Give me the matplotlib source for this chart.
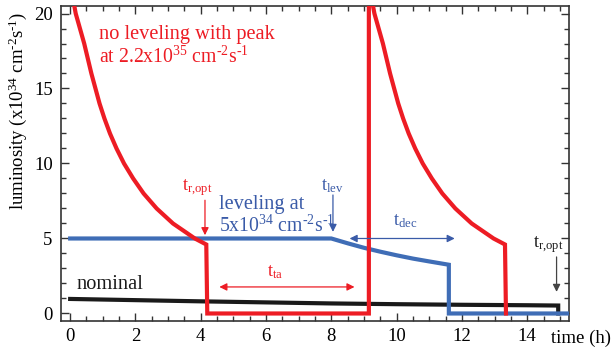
import matplotlib
matplotlib.use("Agg")
import matplotlib.pyplot as plt
from matplotlib.ticker import MultipleLocator

plt.rcParams["font.family"] = ["Liberation Serif", "DejaVu Serif"]
plt.rcParams["mathtext.fontset"] = "custom"
plt.rcParams["mathtext.rm"] = "Liberation Serif"
plt.rcParams["mathtext.it"] = "Liberation Serif:italic"

RED = "#ED1C24"
BLUE = "#3F6DB6"
BLUE_TXT = "#3A5BA8"
BLACK = "#1A1A1A"

# no leveling: two fills, peak 22 (off scale), turnaround at zero between
red_t = [0.0, 0.17, 0.43, 0.65, 0.9, 1.05, 1.22, 1.42, 1.65, 1.93, 2.25, 2.65, 3.15, 3.82, 4.17,
         4.2, 9.15,
         9.15, 9.32, 9.58, 9.80, 10.05, 10.20, 10.37, 10.57, 10.80, 11.08, 11.40, 11.80, 12.30,
         12.97, 13.32, 13.35]
red_L = [22.0, 20.0, 18.0, 16.0, 14.0, 13.0, 12.0, 11.0, 10.0, 9.0, 8.0, 7.0, 6.0, 5.0, 4.6,
         0.0, 0.0,
         22.0, 20.0, 18.0, 16.0, 14.0, 13.0, 12.0, 11.0, 10.0, 9.0, 8.0, 7.0, 6.0,
         5.0, 4.6, 0.0]

# leveling at 5e34
blue_t = [0.0, 8.0, 8.5, 9.0, 9.5, 10.0, 10.5, 11.0, 11.6, 11.6, 15.4]
blue_L = [5.0, 5.0, 4.68, 4.38, 4.12, 3.88, 3.66, 3.47, 3.25, 0.0, 0.0]

# nominal
black_t = [0.0, 2.0, 4.0, 6.0, 8.0, 10.0, 12.0, 14.0, 14.95, 14.95]
black_L = [0.97, 0.89, 0.81, 0.74, 0.67, 0.62, 0.58, 0.55, 0.53, 0.0]

UNIT = r"cm$^{\text{-2}}$s$^{\text{-1}}$"

fig = plt.figure(figsize=(6.12, 3.51), dpi=100)
ax = fig.add_axes([0.0997, 0.0855, 0.83, 0.8974])

ax.plot(black_t, black_L, color=BLACK, lw=3.0, zorder=2, solid_joinstyle="miter")
ax.plot(blue_t, blue_L, color=BLUE, lw=3.0, zorder=3, solid_joinstyle="miter")
ax.plot(red_t, red_L, color=RED, lw=3.0, zorder=4, solid_joinstyle="miter")

ax.set_xlim(-0.28, 15.28)
ax.set_ylim(-0.5, 20.5)
ax.xaxis.set_major_locator(MultipleLocator(2))
ax.xaxis.set_minor_locator(MultipleLocator(0.5))
ax.yaxis.set_major_locator(MultipleLocator(5))
ax.yaxis.set_minor_locator(MultipleLocator(1))
ax.tick_params(which="both", direction="in", top=True, right=True,
               labelsize=13.5, color="#333333", width=1.0)
ax.tick_params(which="major", length=6)
ax.tick_params(which="minor", length=3.5)
ax.tick_params(axis="x", pad=5)
ax.tick_params(axis="y", pad=6)
for sp in ax.spines.values():
    sp.set_color("#333333")
    sp.set_linewidth(1.2)

fig.text(18 / 612, 1 - 111 / 351,
         "luminosity (x10$^{34}$ " + UNIT + ")",
         rotation=90, ha="center", va="center", fontsize=13.5)
fig.text(0.999, 1 - 343 / 351, "time (h)", ha="right", va="baseline", fontsize=13.5)

fs1 = 14.7
fs2 = 14.2
ax.text(0.89, 18.3, "no leveling with peak", color=RED, fontsize=fs1, va="baseline")
ax.text(0.89, 16.7, "at 2.2x10$^{35}$ " + UNIT, color=RED, fontsize=fs2, va="baseline")
ax.text(4.57, 6.95, "leveling at", color=BLUE_TXT, fontsize=fs1, va="baseline")
ax.text(4.57, 5.42, "5x10$^{34}$ " + UNIT, color=BLUE_TXT, fontsize=fs2, va="baseline")
ax.text(0.18, 1.6, "nominal", color=BLACK, fontsize=fs1, va="baseline")

sfs = 13
ax.text(3.44, 8.2, r"t$_\text{r,opt}$", color=RED, fontsize=sfs, va="baseline")
ax.text(7.67, 8.2, r"t$_\text{lev}$", color=BLUE_TXT, fontsize=sfs, va="baseline")
ax.text(9.88, 5.89, r"t$_\text{dec}$", color=BLUE_TXT, fontsize=sfs, va="baseline")
ax.text(6.04, 2.49, r"t$_\text{ta}$", color=RED, fontsize=sfs, va="baseline")
ax.text(14.18, 4.44, r"t$_\text{r,opt}$", color=BLACK, fontsize=sfs, va="baseline")


def arrow(x0, y0, x1, y1, color, style="-|>", lw=0.9):
    ax.annotate("", xy=(x1, y1), xytext=(x0, y0),
                arrowprops=dict(arrowstyle=style, color=color, lw=lw,
                                mutation_scale=11, shrinkA=0, shrinkB=0),
                zorder=5)


arrow(4.13, 7.55, 4.13, 5.22, RED)
arrow(8.05, 7.9, 8.05, 5.44, BLUE_TXT)
arrow(8.56, 5.0, 11.78, 5.0, BLUE_TXT, style="<|-|>")
arrow(4.57, 1.77, 8.71, 1.77, RED, style="<|-|>")
arrow(14.9, 3.77, 14.9, 1.44, "#444444")

fig.savefig("out.png", dpi=100)
